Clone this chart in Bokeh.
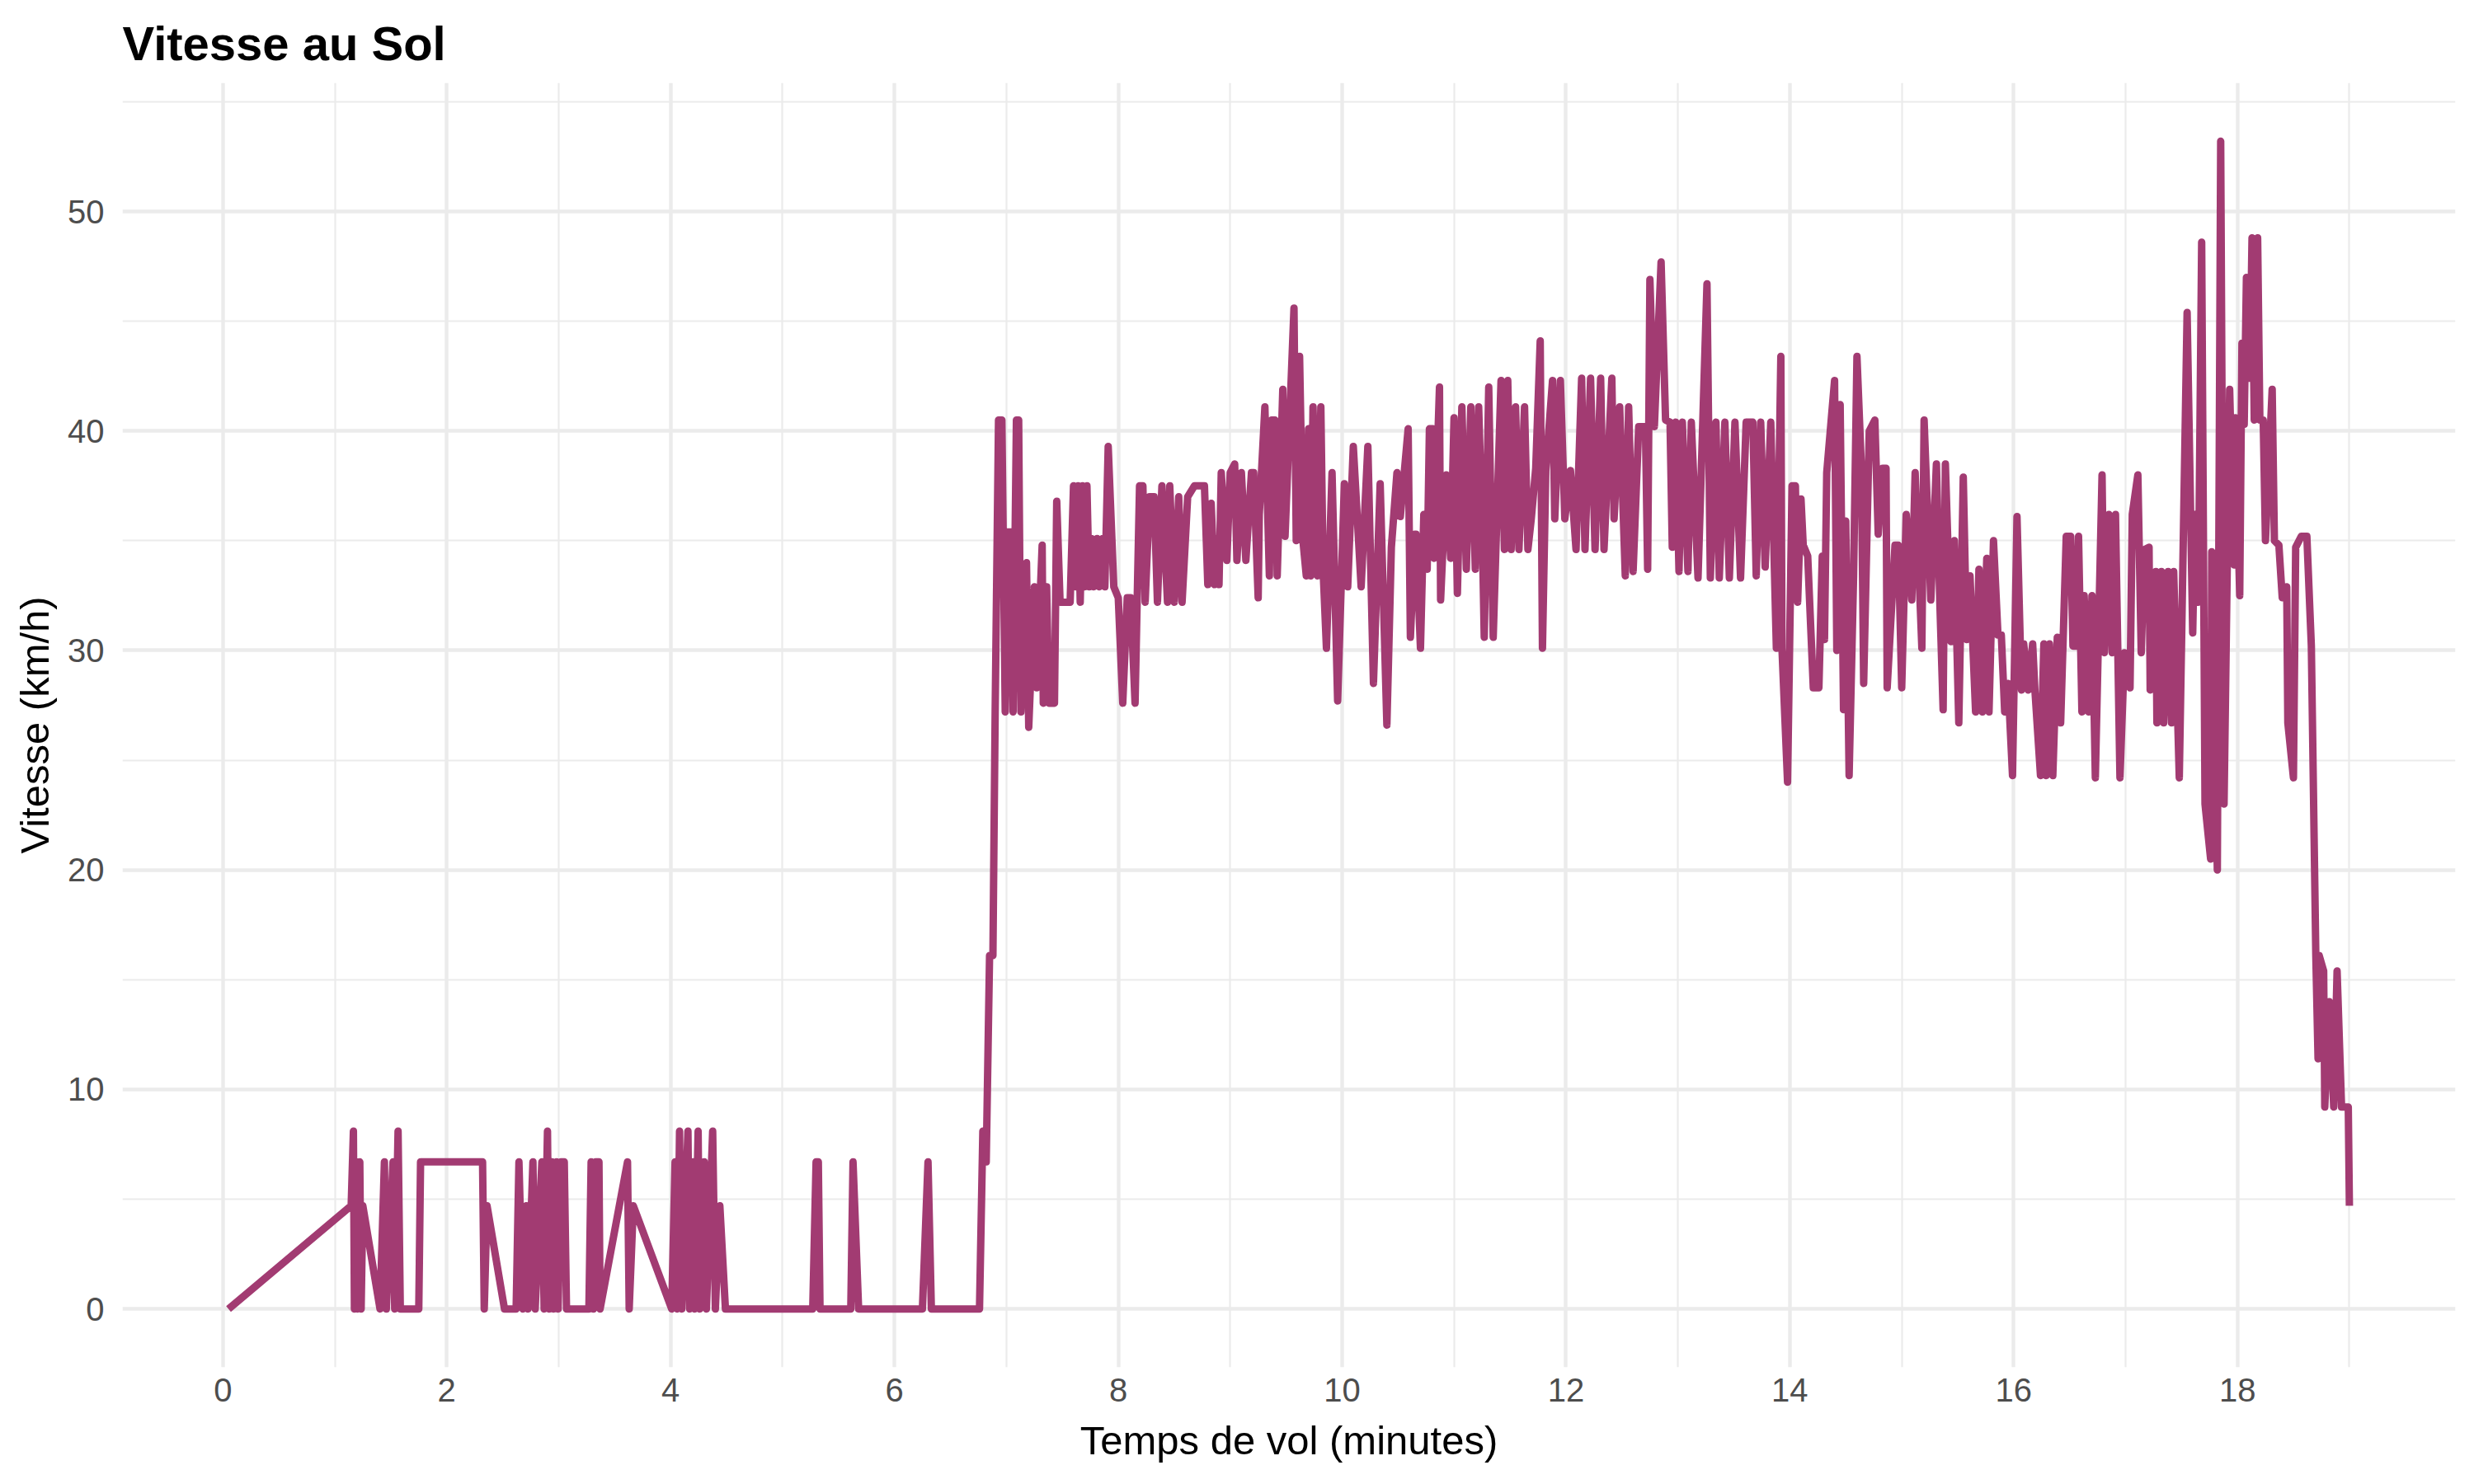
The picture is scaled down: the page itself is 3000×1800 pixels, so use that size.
from bokeh.plotting import figure
from bokeh.models import ColumnDataSource, Range1d, FixedTicker
from bokeh.embed import file_html
from bokeh.resources import INLINE

# ---- data (minutes, km/h) ----
temps_min = [
    0.05, 1.146, 1.166, 1.175, 1.195, 1.205, 1.223, 1.235, 1.25, 1.404,
    1.443, 1.46, 1.52, 1.535, 1.565, 1.585, 1.75, 1.766, 2.32, 2.335,
    2.36, 2.516, 2.62, 2.645, 2.68, 2.71, 2.725, 2.77, 2.79, 2.85,
    2.87, 2.90, 2.915, 2.94, 2.955, 2.98, 2.995, 3.02, 3.05, 3.07,
    3.27, 3.29, 3.31, 3.33, 3.36, 3.37, 3.615, 3.63, 3.667, 4.01,
    4.04, 4.06, 4.08, 4.10, 4.155, 4.17, 4.20, 4.215, 4.246, 4.26,
    4.30, 4.32, 4.376, 4.40, 4.44, 4.49, 5.27, 5.30, 5.32, 5.335,
    5.61, 5.63, 5.68, 6.25, 6.30, 6.33, 6.76, 6.79, 6.82, 6.85,
    6.88, 6.90,
    # montée / vol
    6.93, 6.96, 6.99, 7.01, 7.04, 7.06, 7.09, 7.11, 7.13, 7.18,
    7.20, 7.25, 7.27, 7.32, 7.33, 7.36, 7.38, 7.43, 7.45, 7.48,
    7.57, 7.60, 7.62, 7.64, 7.66, 7.68, 7.70, 7.72, 7.74, 7.76,
    7.78, 7.81, 7.83, 7.86, 7.88, 7.91, 7.96, 8.00, 8.04, 8.08,
    8.11, 8.15, 8.19, 8.22, 8.24, 8.28, 8.32, 8.35, 8.39, 8.44,
    8.46, 8.50, 8.54, 8.57, 8.62, 8.68, 8.77, 8.80, 8.83, 8.86,
    8.88, 8.90, 8.92, 8.97, 9.00, 9.04, 9.06, 9.10, 9.14, 9.19,
    9.21, 9.25, 9.26, 9.31, 9.35, 9.37, 9.40, 9.42, 9.47, 9.49,
    9.57, 9.59, 9.62, 9.65, 9.68, 9.70, 9.72, 9.74, 9.78, 9.81,
    9.83, 9.86, 9.91, 9.96, 10.02, 10.05, 10.10, 10.17, 10.23, 10.28,
    10.34, 10.40, 10.44, 10.49, 10.52,
    10.59, 10.61, 10.65, 10.66, 10.70, 10.73, 10.76, 10.78, 10.81, 10.82,
    10.87, 10.88, 10.93, 10.97, 11.00, 11.03, 11.07, 11.11, 11.15, 11.19,
    11.22, 11.25, 11.27, 11.31, 11.35, 11.42, 11.45, 11.48, 11.51, 11.55,
    11.58, 11.63, 11.66, 11.69, 11.73, 11.77, 11.79, 11.82, 11.88, 11.90,
    11.95, 11.99, 12.04, 12.09, 12.14, 12.17, 12.22, 12.26, 12.31, 12.34,
    12.41, 12.43, 12.48, 12.53, 12.56, 12.60, 12.65, 12.71, 12.73, 12.75,
    12.79, 12.85, 12.89, 12.93, 12.95, 12.98, 13.01, 13.04, 13.09, 13.12,
    13.18, 13.26, 13.29, 13.34, 13.37, 13.42, 13.46, 13.51, 13.56, 13.61,
    13.67, 13.70, 13.74, 13.78, 13.83, 13.88, 13.92, 13.93, 13.98, 14.02,
    14.05, 14.07, 14.10, 14.12, 14.16, 14.21, 14.26, 14.29, 14.31, 14.33,
    14.40, 14.42, 14.45, 14.48, 14.50, 14.53, 14.57, 14.60, 14.64, 14.66,
    14.71, 14.76, 14.79, 14.83, 14.86, 14.87, 14.94, 14.97, 15.00, 15.04,
    15.09, 15.12, 15.18, 15.20, 15.26, 15.31, 15.34, 15.37, 15.39, 15.44,
    15.47, 15.51, 15.55, 15.58, 15.61, 15.66, 15.69, 15.72, 15.76, 15.78,
    15.82, 15.86, 15.89, 15.92, 15.95, 15.99, 16.03, 16.07, 16.09, 16.13,
    16.17, 16.19, 16.24, 16.27, 16.29, 16.32, 16.35, 16.39, 16.42, 16.47,
    16.51, 16.53, 16.56, 16.58, 16.61, 16.63, 16.67, 16.70, 16.73, 16.79,
    16.81, 16.85, 16.88, 16.91, 16.95, 16.99, 17.04, 17.06, 17.11, 17.14,
    17.17, 17.21, 17.22, 17.27, 17.28, 17.32, 17.34, 17.38, 17.41, 17.43,
    17.48, 17.55, 17.60, 17.62, 17.65, 17.68, 17.71, 17.76, 17.77, 17.82,
    17.85, 17.88, 17.93, 17.97, 17.98, 18.02, 18.04, 18.06, 18.08, 18.11,
    18.13, 18.15, 18.18, 18.20, 18.23, 18.25, 18.31, 18.33, 18.37, 18.40,
    18.44, 18.45, 18.50, 18.52, 18.57, 18.62, 18.66, 18.70, 18.72, 18.73,
    18.77, 18.78, 18.82, 18.86, 18.89, 18.93, 18.99, 19.00,
]

vitesse_kmh = [
    0.0, 4.7, 8.1, 0.0, 6.7, 0.0, 6.7, 0.0, 4.7, 0.0,
    6.7, 0.0, 6.7, 0.0, 8.1, 0.0, 0.0, 6.7, 6.7, 0.0,
    4.7, 0.0, 0.0, 6.7, 0.0, 4.7, 0.0, 6.7, 0.0, 6.7,
    0.0, 8.1, 0.0, 6.7, 0.0, 6.7, 0.0, 6.7, 6.7, 0.0,
    0.0, 6.7, 0.0, 6.7, 6.7, 0.0, 6.7, 0.0, 4.7, 0.0,
    6.7, 0.0, 8.1, 0.0, 8.1, 0.0, 6.7, 0.0, 8.1, 0.0,
    6.7, 0.0, 8.1, 0.0, 4.7, 0.0, 0.0, 6.7, 6.7, 0.0,
    0.0, 6.7, 0.0, 0.0, 6.7, 0.0, 0.0, 8.1, 6.7, 16.1,
    16.1, 27.2,
    40.5, 40.5, 27.2, 35.4, 35.4, 27.2, 40.5, 40.5, 27.2, 34.0,
    26.5, 32.9, 28.3, 34.8, 27.6, 32.9, 27.6, 27.6, 36.8, 32.2,
    32.2, 37.5, 32.9, 37.5, 32.2, 37.5, 32.9, 37.5, 32.9, 35.1,
    32.9, 35.1, 32.9, 35.1, 32.9, 39.3, 32.9, 32.4, 27.6, 32.4,
    32.4, 27.6, 37.5, 37.5, 32.2, 37.0, 37.0, 32.2, 37.5, 32.2,
    37.5, 32.2, 37.0, 32.2, 37.0, 37.5, 37.5, 33.0, 36.7, 33.0,
    35.1, 33.0, 38.1, 34.1, 38.1, 38.5, 34.1, 38.1, 34.1, 38.1,
    38.1, 32.4, 36.2, 41.1, 33.4, 40.5, 40.5, 33.4, 41.9, 35.2,
    45.6, 35.0, 43.4, 35.0, 33.4, 40.1, 33.4, 41.1, 33.4, 41.1,
    33.7, 30.1, 38.1, 27.7, 37.6, 32.9, 39.3, 32.9, 39.3, 28.5,
    37.6, 26.6, 34.7, 38.1, 36.1,
    40.1, 30.6, 35.3, 35.3, 30.1, 36.2, 33.7, 40.1, 40.1, 34.2,
    42.0, 32.3, 38.0, 34.2, 40.6, 32.6, 41.1, 33.7, 41.1, 33.7,
    41.1, 36.0, 30.6, 42.0, 30.6, 42.3, 34.6, 42.3, 34.6, 41.1,
    34.6, 41.1, 34.6, 36.0, 38.3, 44.1, 30.1, 38.2, 42.3, 36.0,
    42.3, 36.0, 38.2, 34.6, 42.4, 34.6, 42.4, 34.6, 42.4, 34.6,
    42.4, 36.0, 41.1, 33.4, 41.1, 33.6, 40.2, 40.2, 33.7, 46.9,
    40.2, 47.7, 40.5, 40.4, 34.7, 40.4, 33.6, 40.4, 33.6, 40.4,
    33.3, 46.7, 33.3, 40.4, 33.3, 40.4, 33.3, 40.4, 33.3, 40.4,
    40.4, 33.4, 40.4, 33.8, 40.4, 30.1, 43.4, 30.1, 24.0, 37.5,
    37.5, 32.2, 36.9, 34.8, 34.3, 28.3, 28.3, 34.3, 30.5, 38.1,
    42.3, 30.0, 41.2, 27.3, 35.9, 24.3, 33.4, 43.4, 38.3, 28.5,
    40.0, 40.5, 35.3, 38.3, 38.3, 28.3, 34.8, 34.8, 28.3, 36.2,
    32.3, 38.1, 30.1, 40.5, 32.3, 38.5, 32.3, 27.3, 38.5, 30.4,
    35.0, 26.7, 37.9, 30.5, 33.4, 27.2, 33.7, 27.2, 34.2, 27.2,
    35.0, 30.7, 30.7, 27.2, 28.5, 24.3, 36.1, 28.2, 30.3, 28.2,
    30.3, 28.2, 24.3, 30.3, 24.3, 30.3, 24.3, 30.6, 26.7, 35.2,
    35.2, 30.2, 30.2, 35.2, 27.2, 32.5, 27.2, 32.5, 24.2, 38.0,
    29.9, 36.2, 29.9, 36.2, 24.2, 29.9, 28.3, 36.2, 38.0, 29.9,
    34.6, 34.7, 28.2, 33.6, 26.7, 33.6, 26.7, 33.6, 26.7, 33.6,
    24.2, 45.4, 30.8, 36.2, 32.2, 48.6, 23.0, 20.5, 34.5, 20.0,
    53.2, 23.0, 41.9, 33.9, 40.6, 32.5, 44.0, 40.3, 47.0, 42.4,
    48.8, 40.5, 48.8, 40.5, 40.5, 35.0, 41.9, 35.0, 34.8, 32.4,
    32.9, 26.7, 24.2, 34.7, 35.2, 35.2, 30.2, 16.1, 11.4, 16.1,
    15.4, 9.2, 14.0, 9.2, 15.4, 9.2, 9.2, 4.7,
]

x_ticks = [0, 2, 4, 6, 8, 10, 12, 14, 16, 18]
x_minor = [1, 3, 5, 7, 9, 11, 13, 15, 17, 19]
y_ticks = [0, 10, 20, 30, 40, 50]
y_minor = [5, 15, 25, 35, 45, 55]

titre = "Vitesse au Sol"
titre_x = "Temps de vol (minutes)"
titre_y = "Vitesse (km/h)"

FONT = "Liberation Sans"
GRID = "#EBEBEB"
LINE = "#A23B72"

x_lo, x_hi = min(temps_min), max(temps_min)
y_lo, y_hi = min(vitesse_kmh), max(vitesse_kmh)
xe = 0.05 * (x_hi - x_lo)
ye = 0.05 * (y_hi - y_lo)

p = figure(
    width=2984, height=1784,
    output_backend="svg", toolbar_location=None,
    x_range=Range1d(x_lo - xe, x_hi + xe),
    y_range=Range1d(y_lo - ye, y_hi + ye),
    min_border_left=148, min_border_right=7,
    min_border_top=100, min_border_bottom=126,
)
p.outline_line_color = None
p.background_fill_color = "white"
p.border_fill_color = "white"

# title
p.title.text = titre
p.title.text_font = FONT
p.title.text_font_size = "58px"
p.title.text_font_style = "bold"
p.title.text_color = "black"
p.title.align = "left"
p.title.standoff = 32

# axes
p.xaxis.ticker = FixedTicker(ticks=x_ticks, minor_ticks=x_minor)
p.yaxis.ticker = FixedTicker(ticks=y_ticks, minor_ticks=y_minor)
for ax in (p.xaxis[0], p.yaxis[0]):
    ax.axis_line_color = None
    ax.major_tick_line_color = None
    ax.minor_tick_line_color = None
    ax.major_tick_in = 0
    ax.major_tick_out = 0
    ax.minor_tick_in = 0
    ax.minor_tick_out = 0
    ax.major_label_text_font = FONT
    ax.major_label_text_font_size = "40px"
    ax.major_label_text_color = "#4D4D4D"
    ax.axis_label_text_font = FONT
    ax.axis_label_text_font_size = "49px"
    ax.axis_label_text_font_style = "normal"
    ax.axis_label_text_color = "black"

p.xaxis.axis_label = titre_x
p.yaxis.axis_label = titre_y
p.xaxis.major_label_standoff = 13
p.xaxis.axis_label_standoff = 17
p.yaxis.major_label_standoff = 22
p.yaxis.axis_label_standoff = 10

# grid
for g in (p.xgrid[0], p.ygrid[0]):
    g.grid_line_color = GRID
    g.grid_line_width = 4.4
    g.minor_grid_line_color = GRID
    g.minor_grid_line_width = 2.2

src = ColumnDataSource(data=dict(t=temps_min, v=vitesse_kmh))
p.line(x="t", y="v", source=src, line_color=LINE, line_width=9,
       line_join="round", line_cap="butt")

open("out.html", "w").write(file_html(p, INLINE))
